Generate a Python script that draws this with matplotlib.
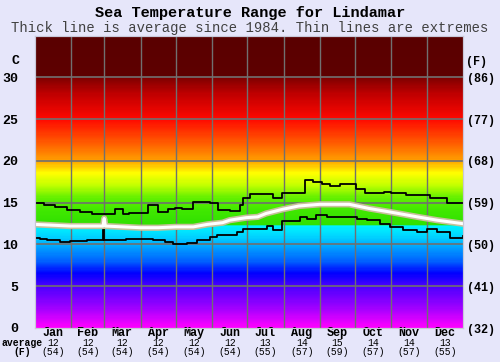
"""
    Sea temperature range chart for Lindamar: average and extremes over the year.
"""

import numpy as np
import matplotlib
matplotlib.use("Agg")
import matplotlib.pyplot as plt
import matplotlib.patheffects as pe
from matplotlib.colors import LinearSegmentedColormap
from matplotlib.transforms import blended_transform_factory

# month labels and monthly averages shown under the axis
months = ["Jan", "Feb", "Mar", "Apr", "May", "Jun", "Jul", "Aug", "Sep", "Oct", "Nov", "Dec"]
month_avg_c = [12, 12, 12, 12, 12, 12, 13, 14, 15, 14, 14, 13]
month_avg_f = [54, 54, 54, 54, 54, 54, 55, 57, 59, 57, 57, 55]
month_days = [31, 28, 31, 30, 31, 30, 31, 31, 30, 31, 30, 31]

# thin line: highest recorded (day of year, deg C)
max_days = [0, 8, 17, 27, 38, 49, 68, 75, 80, 96, 105, 113, 119, 125, 135, 149, 156, 166, 175,
            177, 183, 203, 211, 224, 230, 237, 245, 252, 260, 274, 281, 298, 304, 316, 337, 351, 365]
max_temp = [14.9, 14.7, 14.5, 14.1, 13.9, 13.6, 14.2, 13.6, 13.8, 14.7, 13.9, 14.2, 14.4, 14.2, 15.1,
            14.9, 14.1, 14.0, 14.7, 15.5, 16.0, 15.5, 16.1, 16.2, 17.7, 17.5, 17.2, 17.0, 17.2, 16.6,
            16.1, 16.3, 16.1, 15.9, 15.5, 14.9, 14.9]

# thin line: lowest recorded
min_days = [0, 4, 10, 21, 30, 44, 58, 59, 78, 90, 101, 111, 118, 130, 138, 149, 155, 172, 177,
            189, 198, 203, 211, 226, 232, 240, 249, 275, 283, 294, 303, 314, 326, 334, 343, 354, 365]
min_temp = [10.8, 10.6, 10.5, 10.3, 10.4, 10.5, 12.0, 10.5, 10.6, 10.7, 10.5, 10.3, 10.0, 10.2, 10.5,
            10.9, 11.1, 11.5, 11.8, 11.9, 12.2, 11.7, 12.8, 13.3, 13.1, 13.5, 13.3, 13.1, 12.9, 12.5,
            12.1, 11.7, 11.5, 11.9, 11.5, 10.8, 11.0]

# thick line: average since 1984
avg_days = [0, 15, 30, 45, 58, 59, 60, 75, 90, 105, 120, 135, 147, 160, 166, 180, 190, 197, 211,
            225, 243, 268, 285, 302, 326, 343, 364]
avg_temp = [12.4, 12.3, 12.2, 12.2, 12.2, 13.1, 12.2, 12.1, 12.0, 12.0, 12.1, 12.1, 12.4, 12.6, 12.9,
            13.2, 13.3, 13.7, 14.2, 14.6, 14.8, 14.8, 14.3, 13.9, 13.3, 12.9, 12.5]

c_ticks = [0, 5, 10, 15, 20, 25, 30]
f_ticks = ["(32)", "(41)", "(50)", "(59)", "(68)", "(77)", "(86)"]

# background colour scale, temperature -> colour
scale_temps = [0, 2.5, 5, 6.5, 8, 10, 11, 12.2, 12.25, 14, 15.5, 17, 18.5, 20, 22, 25, 28, 29.95, 30, 35]
scale_colors = ["#ff00ff", "#9a00ff", "#4800ff", "#0000ff", "#0064ff", "#00b0ff", "#00d8ff", "#00f4ff",
                "#30e000", "#40e800", "#60f000", "#c0ff00", "#ffff00", "#ffa000", "#ff6000", "#ff0800",
                "#c00000", "#800000", "#5e0000", "#5a0000"]

bg = "#e6e6fa"
mono = "Liberation Mono"

fig = plt.figure(figsize=(5, 3.62), dpi=100, facecolor=bg)
ax = fig.add_axes([35 / 500, 34 / 362, 428 / 500, 292.5 / 362])
ax.set_xlim(0, 365)
ax.set_ylim(0, 35)

cmap = LinearSegmentedColormap.from_list("sea", list(zip(np.array(scale_temps) / 35, scale_colors)))
grad = np.linspace(0, 35, 1400).reshape(-1, 1)
ax.imshow(grad, extent=[0, 365, 0, 35], origin="lower", aspect="auto", cmap=cmap, vmin=0, vmax=35,
          interpolation="nearest", zorder=0)

# grid
for t in c_ticks[1:]:
    ax.axhline(t, color="#707070", lw=1.2, zorder=1)
for b in np.cumsum(month_days)[:-1]:
    ax.axvline(b, color="#707070", lw=1.0, zorder=1)

ax.plot(max_days, max_temp, color="black", lw=1.3, drawstyle="steps-post", zorder=3)
ax.plot(min_days, min_temp, color="black", lw=1.3, drawstyle="steps-post", zorder=3)
ax.plot(avg_days, avg_temp, color="white", lw=2.2, zorder=4,
        path_effects=[pe.Stroke(linewidth=4.5, foreground="#c8c09c"), pe.Normal()])

ax.set_xticks([])
ax.set_yticks(c_ticks)
ax.set_yticklabels([str(t) for t in c_ticks], fontfamily=mono, fontweight="bold", fontsize=9.5)
ax.tick_params(axis="y", length=0, pad=12)

ax2 = ax.twinx()
ax2.set_ylim(0, 35)
ax2.set_yticks(c_ticks)
ax2.set_yticklabels(f_ticks, fontfamily=mono, fontweight="bold", fontsize=8.5)
ax2.tick_params(axis="y", length=0, pad=3)

for a in (ax, ax2):
    for s in a.spines.values():
        s.set_color("#c8c8d8")
        s.set_linewidth(0.8)

def fy(py):
    return 1 - py / 362

fig.text(0.5, fy(13), "Sea Temperature Range for Lindamar", ha="center", va="center",
         fontfamily=mono, fontweight="bold", fontsize=11)
fig.text(0.5, fy(28), "Thick line is average since 1984. Thin lines are extremes", ha="center",
         va="center", fontfamily=mono, fontsize=10, color="#404040")
fig.text(15 / 500, fy(61), "C", ha="center", va="center", fontfamily=mono, fontweight="bold", fontsize=9.5)
fig.text(476 / 500, fy(62), "(F)", ha="center", va="center", fontfamily=mono, fontweight="bold", fontsize=8.5)

# month labels under the axis
trans = blended_transform_factory(ax.transData, fig.transFigure)
starts = np.concatenate([[0], np.cumsum(month_days)[:-1]])
for name, c, f, s, n in zip(months, month_avg_c, month_avg_f, starts, month_days):
    mid = s + n / 2
    ax.text(mid, fy(333), name, transform=trans, ha="center", va="center",
            fontfamily=mono, fontweight="bold", fontsize=8.5)
    ax.text(mid, fy(343), str(c), transform=trans, ha="center", va="center", fontfamily=mono, fontsize=7)
    ax.text(mid, fy(352), "(%d)" % f, transform=trans, ha="center", va="center", fontfamily=mono, fontsize=7)
fig.text(22 / 500, fy(343), "average", ha="center", va="center", fontfamily=mono, fontweight="bold", fontsize=7)
fig.text(22 / 500, fy(352), "(F)", ha="center", va="center", fontfamily=mono, fontweight="bold", fontsize=7)

fig.savefig("out.png", dpi=100, facecolor=bg)
